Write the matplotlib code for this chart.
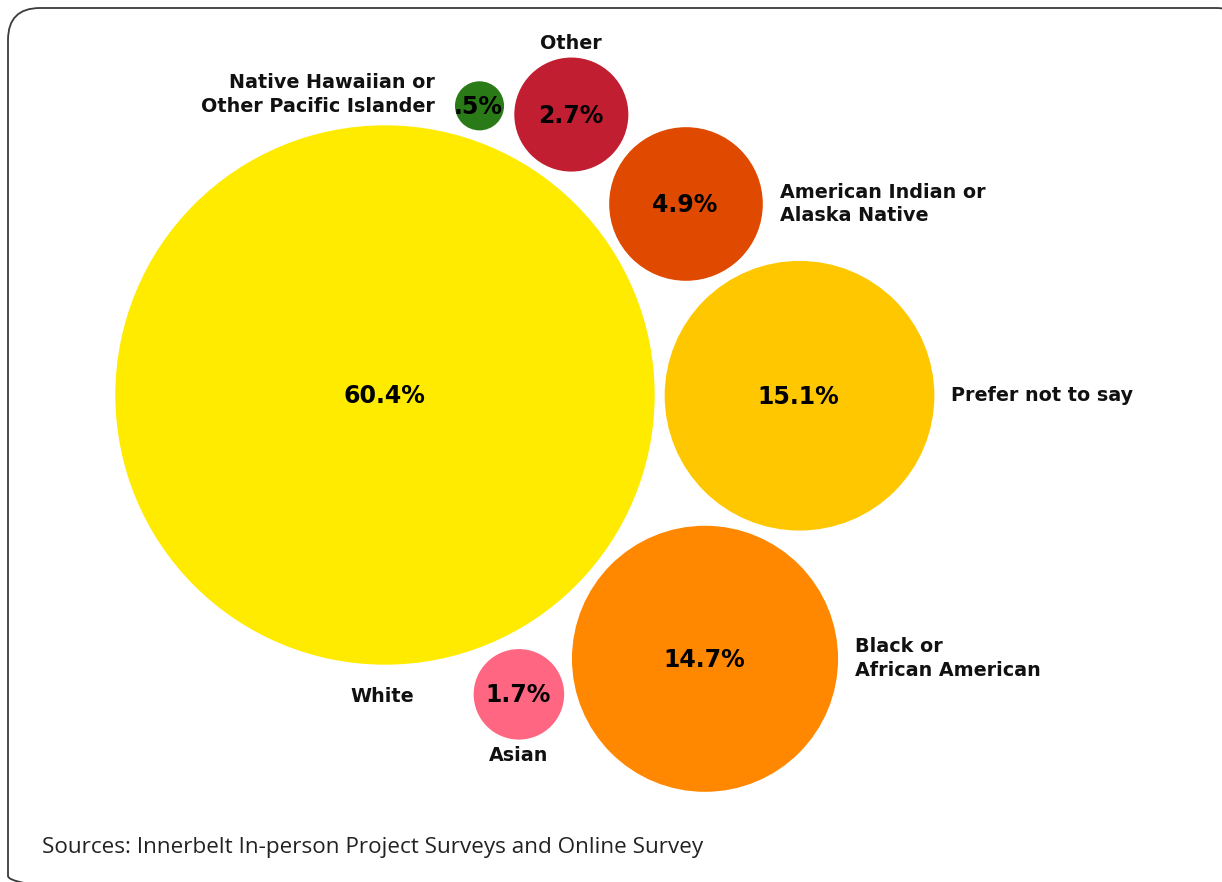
import numpy as np
import matplotlib.pyplot as plt
from matplotlib.patches import Circle, FancyBboxPatch

# share of respondents by race (%)
groups = ["White", "Prefer not to say", "Black or\nAfrican American",
          "American Indian or\nAlaska Native", "Other",
          "Native Hawaiian or\nOther Pacific Islander", "Asian"]
shares = [60.4, 15.1, 14.7, 4.9, 2.7, 0.5, 1.7]
colors = ["#FEEB00", "#FFC700", "#FF8800", "#E04A00", "#C21E32", "#2A7B18", "#FF6682"]

# packing layout: angle of each small bubble around the big one (deg, y down)
angles = [None, 0.1, 39.5, -32.4, -56.4, -71.9, 65.9]
gaps = [0, 10, 12, 10, 10, 10, 13]
# where each category name sits relative to its bubble
label_side = ["white", "right", "right", "right", "above", "left", "below"]

W, H = 1222, 882
fig = plt.figure(figsize=(W / 100, H / 100), dpi=100)
ax = fig.add_axes([0, 0, 1, 1])
ax.set_xlim(0, W)
ax.set_ylim(H, 0)
ax.set_aspect("equal")
ax.axis("off")

# rounded frame running off the right and bottom edges
frame = FancyBboxPatch((8, 8), 1240, 900, boxstyle="round,pad=0,rounding_size=32",
                       fc="none", ec="#3a3a3a", lw=1.3, clip_on=False)
ax.add_patch(frame)

scale = 34.7  # px per sqrt(percent)
radii = [scale * np.sqrt(v) for v in shares]
cx0, cy0 = 385, 395
centers = []
for i, (r, a, g) in enumerate(zip(radii, angles, gaps)):
    if a is None:
        centers.append((cx0, cy0))
        continue
    d = radii[0] + r + g
    t = np.radians(a)
    centers.append((cx0 + d * np.cos(t), cy0 + d * np.sin(t)))

name_font = dict(family="DejaVu Sans", fontweight="bold", fontsize=13.8, color="#111111",
                 linespacing=1.32)
val_font = dict(family="DejaVu Sans", fontweight="heavy", fontsize=17, color="#000000")

for name, v, c, r, (x, y), side in zip(groups, shares, colors, radii, centers, label_side):
    ax.add_patch(Circle((x, y), r, fc=c, ec="none"))
    txt = f"{v:.1f}%"
    if v < 1:
        txt = txt.lstrip("0")
    ax.text(x - 1, y + 1, txt, ha="center", va="center", **val_font)

    if side == "right":
        ax.text(x + r + 17, y, name, ha="left", va="center", **name_font)
    elif side == "left":
        ax.text(x - r - 20, y - 11, name, ha="right", va="center", **name_font)
    elif side == "above":
        ax.text(x, y - r - 14, name, ha="center", va="center", **name_font)
    elif side == "below":
        ax.text(x, y + r + 16, name, ha="center", va="center", **name_font)
    else:
        ax.text(x - 3, y + r + 32, name, ha="center", va="center", **name_font)

ax.text(42, 847, "Sources: Innerbelt In-person Project Surveys and Online Survey",
        ha="left", va="center", family="Open Sans", fontsize=16.2, color="#222222")

fig.savefig("out.png", dpi=100, facecolor="white")
